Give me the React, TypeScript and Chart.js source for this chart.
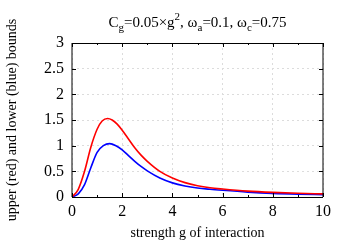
import React, { useEffect, useRef } from "react";
import { Chart, registerables } from "chart.js";

Chart.register(...registerables);

const gRed = [0, 0.25, 0.5, 0.75, 1.0, 1.2, 1.42, 1.6, 1.8, 2.0, 2.25, 2.5, 2.75, 3.0, 3.5, 4.0, 4.5, 5.0, 5.5, 6.0, 7.0, 8.0, 9.0, 10.0];
const upperRed = [0, 0.15, 0.5, 0.97, 1.32, 1.48, 1.53, 1.5, 1.42, 1.3, 1.13, 0.96, 0.815, 0.695, 0.5, 0.37, 0.28, 0.22, 0.18, 0.155, 0.115, 0.09, 0.073, 0.06];
const gBlue = [0, 0.25, 0.5, 0.75, 1.0, 1.25, 1.5, 1.75, 2.0, 2.25, 2.5, 2.75, 3.0, 3.5, 4.0, 4.5, 5.0, 5.5, 6.0, 7.0, 8.0, 9.0, 10.0];
const lowerBlue = [0, 0.06, 0.24, 0.57, 0.87, 1.0, 1.04, 1.0, 0.92, 0.805, 0.695, 0.595, 0.51, 0.37, 0.275, 0.215, 0.175, 0.15, 0.13, 0.095, 0.07, 0.055, 0.045];
const xTickValues = [0, 2, 4, 6, 8, 10];
const yTickValues = [0, 0.5, 1, 1.5, 2, 2.5, 3];
const xMinorTicks = [1, 3, 5, 7, 9];

const FONT = "'Liberation Serif', 'DejaVu Serif', serif";

const titlePlugin = {
  id: "richTitle",
  afterDraw(chart: any) {
    const ctx = chart.ctx;
    const area = chart.chartArea;
    const parts: [string, number][] = [
      ["C", 0], ["g", 1], ["=0.05×g", 0], ["2", -1], [", ω", 0], ["a", 1],
      ["=0.1, ω", 0], ["c", 1], ["=0.75", 0],
    ];
    const main = `15px ${FONT}`;
    const small = `11px ${FONT}`;
    ctx.save();
    let total = 0;
    for (const [t, k] of parts) {
      ctx.font = k === 0 ? main : small;
      total += ctx.measureText(t).width;
    }
    let x = (area.left + area.right) / 2 - total / 2;
    const base = 27;
    ctx.fillStyle = "#000";
    ctx.textBaseline = "alphabetic";
    ctx.textAlign = "left";
    for (const [t, k] of parts) {
      ctx.font = k === 0 ? main : small;
      const y = k === 0 ? base : k === 1 ? base + 4 : base - 7;
      ctx.fillText(t, x, y);
      x += ctx.measureText(t).width;
    }
    ctx.restore();
  },
};

const framePlugin = {
  id: "frame",
  afterDatasetsDraw(chart: any) {
    const ctx = chart.ctx;
    const a = chart.chartArea;
    const xs = chart.scales.x;
    const ys = chart.scales.y;
    ctx.save();
    ctx.strokeStyle = "#000";
    ctx.lineWidth = 1;
    ctx.beginPath();
    ctx.moveTo(a.left, a.top + 0.5);
    ctx.lineTo(a.right, a.top + 0.5);
    ctx.moveTo(a.left, a.bottom + 0.5);
    ctx.lineTo(a.right, a.bottom + 0.5);
    ctx.moveTo(a.left, a.top);
    ctx.lineTo(a.left, a.bottom);
    ctx.moveTo(a.right, a.top);
    ctx.lineTo(a.right, a.bottom);
    for (const v of xTickValues) {
      const px = Math.round(xs.getPixelForValue(v)) + 0.5;
      ctx.moveTo(px, a.bottom);
      ctx.lineTo(px, a.bottom - 4);
      ctx.moveTo(px, a.top);
      ctx.lineTo(px, a.top + 4);
    }
    for (const v of xMinorTicks) {
      const px = Math.round(xs.getPixelForValue(v)) + 0.5;
      ctx.moveTo(px, a.bottom);
      ctx.lineTo(px, a.bottom - 2);
      ctx.moveTo(px, a.top);
      ctx.lineTo(px, a.top + 2);
    }
    for (const v of yTickValues) {
      const py = Math.round(ys.getPixelForValue(v)) + 0.5;
      ctx.moveTo(a.left, py);
      ctx.lineTo(a.left + 4, py);
      ctx.moveTo(a.right, py);
      ctx.lineTo(a.right - 4, py);
    }
    ctx.stroke();
    ctx.restore();
  },
};

export default function App() {
  const ref = useRef<HTMLCanvasElement | null>(null);
  useEffect(() => {
    document.body.style.margin = "0";
    const canvas = ref.current;
    if (!canvas) return;
    const chart = new Chart(canvas, {
      type: "line",
      data: {
        datasets: [
          {
            label: "upper",
            data: gRed.map((g, i) => ({ x: g, y: upperRed[i] })),
            borderColor: "#ff0000",
            borderWidth: 1.6,
            pointRadius: 0,
            cubicInterpolationMode: "monotone",
            fill: false,
          },
          {
            label: "lower",
            data: gBlue.map((g, i) => ({ x: g, y: lowerBlue[i] })),
            borderColor: "#0000ff",
            borderWidth: 1.6,
            pointRadius: 0,
            cubicInterpolationMode: "monotone",
            fill: false,
          },
        ],
      },
      options: {
        responsive: false,
        animation: false,
        devicePixelRatio: 1,
        layout: { padding: { top: 43, right: 26, left: 0, bottom: 0 } },
        plugins: { legend: { display: false }, tooltip: { enabled: false } },
        scales: {
          x: {
            type: "linear",
            min: 0,
            max: 10,
            afterFit: (s: any) => { s.height = 47; },
            afterBuildTicks: (s: any) => { s.ticks = xTickValues.map((v) => ({ value: v })); },
            border: { display: false, dash: [2, 3] },
            grid: { color: "#dcdcdc", drawTicks: false, lineWidth: 1 },
            ticks: {
              color: "#000",
              font: { family: FONT, size: 16 },
              padding: 5,
              maxRotation: 0,
              callback: (v: any) => String(v),
            },
            title: {
              display: true,
              text: "strength g of interaction",
              color: "#000",
              font: { family: FONT, size: 14 },
              padding: { top: 0, bottom: 2 },
            },
          },
          y: {
            type: "linear",
            min: 0,
            max: 3,
            afterFit: (s: any) => { s.width = 72; },
            afterBuildTicks: (s: any) => { s.ticks = yTickValues.map((v) => ({ value: v })); },
            border: { display: false, dash: [2, 3] },
            grid: { color: "#dcdcdc", drawTicks: false, lineWidth: 1 },
            ticks: {
              color: "#000",
              font: { family: FONT, size: 16 },
              padding: 8,
              callback: (v: any) => String(v),
            },
            title: {
              display: true,
              text: "upper (red) and lower (blue) bounds",
              color: "#000",
              font: { family: FONT, size: 14 },
              padding: { top: 4, bottom: 0 },
            },
          },
        },
      },
      plugins: [titlePlugin, framePlugin],
    } as any);
    return () => chart.destroy();
  }, []);
  return (
    <div style={{ width: 349, height: 244, background: "#fff" }}>
      <canvas ref={ref} width={349} height={244} style={{ display: "block" }} />
    </div>
  );
}
